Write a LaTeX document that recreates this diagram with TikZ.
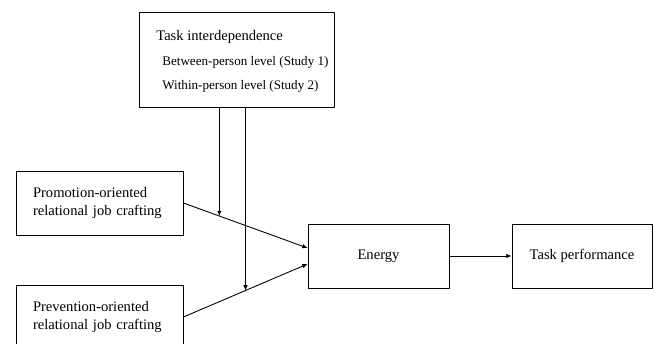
\documentclass[tikz,border=0pt]{standalone}
\usepackage{fontspec}
\setmainfont{Liberation Serif}
\usetikzlibrary{calc,arrows.meta}

\begin{document}
\begin{tikzpicture}[x=0.02cm,y=-0.02cm,line cap=round,line join=round,
    box/.style={draw,line width=0.5pt,inner sep=0pt,minimum height=1.28cm,
      align=center,font=\fontsize{8.3}{10.8}\selectfont},
    srcbox/.style={box,minimum width=3.34cm,text width=2.66cm,inner xsep=0.34cm,align=left},
    lbl/.style={anchor=base west,inner sep=0pt,font=\fontsize{7.45}{10}\selectfont},
    link/.style={line width=0.5pt,-{Latex[length=3pt,width=2.6pt]}}]
  \useasboundingbox (0,0) rectangle (654,343);
  % boxes
  \node[box,minimum width=3.9cm,minimum height=1.9cm] (inter) at (236.5,59.5) {};
  \node[lbl,font=\fontsize{8.3}{10}\selectfont] (inter1) at (156,40) {Task interdependence};
  \node[lbl] (inter2) at (162,65) {Between-person level (Study 1)};
  \node[lbl] (inter3) at (162,89) {Within-person level (Study 2)};
  \node[srcbox] (promo) at (99.5,203) {Promotion-oriented\\relational job crafting};
  \node[srcbox] (prev) at (99.5,317) {Prevention-oriented\\relational job crafting};
  \node[box,minimum width=2.82cm] (energy) at (378.5,256) {Energy};
  \node[box,minimum width=2.8cm] (perf) at (582,256) {Task performance};
  % connectors
  \coordinate (ein1) at ($(energy.west)+(0,-8)$);
  \coordinate (ein2) at ($(energy.west)+(0,8)$);
  \draw[link] (promo.east) -- (ein1);
  \draw[link] (prev.east) -- (ein2);
  \draw[link] (energy) -- (perf);
  \coordinate (m1) at ($(promo.east)!0.29!(ein1)$);
  \coordinate (m2) at ($(prev.east)!0.5!(ein2)$);
  \draw[link] (m1 |- inter.south) -- (m1);
  \draw[link] (m2 |- inter.south) -- (m2);
\end{tikzpicture}
\end{document}
